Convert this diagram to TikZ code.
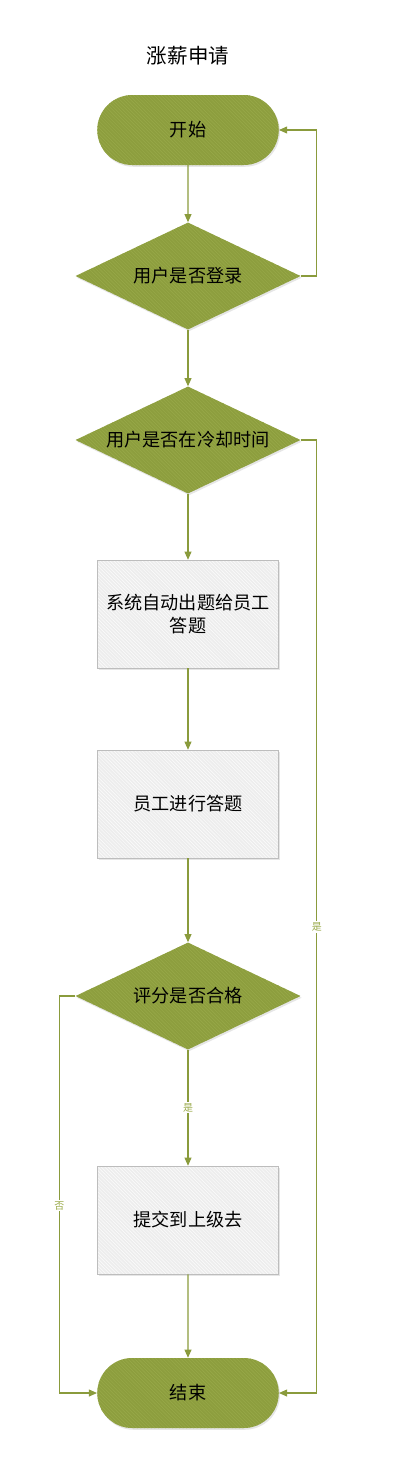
\documentclass[tikz,border=0pt]{standalone}
\usepackage{fontspec}
\newfontfamily\cjk{Noto Sans CJK SC}
\usetikzlibrary{shapes,arrows.meta,patterns,shadows}
\definecolor{leafgreen}{HTML}{8D9E3E}
\definecolor{stripegreen}{HTML}{99AA4A}
\definecolor{linegreen}{HTML}{8A9B3C}
\definecolor{taggreen}{HTML}{9AAA4A}
\definecolor{boxgray}{HTML}{EDEDED}
\definecolor{edgegray}{HTML}{BDBDBD}

\begin{document}
\begin{tikzpicture}[x=0.03cm, y=-0.03cm,
        base/.style={font=\cjk\fontsize{15.5}{19.6}\selectfont, text=black, align=center,
                     drop shadow={shadow xshift=1pt, shadow yshift=-1.5pt, opacity=0.2}},
        terminal/.style={base, rounded rectangle, minimum width=5.68cm, minimum height=2.1cm,
                         fill=leafgreen, postaction={pattern=north west lines, pattern color=stripegreen}},
        decision/.style={base, diamond, aspect=2.1, inner sep=0pt, minimum width=6.75cm, minimum height=3.21cm,
                         fill=leafgreen, postaction={pattern=north west lines, pattern color=stripegreen}},
        process/.style={base, rectangle, minimum width=5.43cm, minimum height=3.24cm, draw=edgegray,
                        preaction={fill=boxgray},
                        preaction={pattern=north west lines, pattern color=white!85!boxgray}},
        flow/.style={draw=linegreen, line width=0.9pt, -{Triangle[length=7pt,width=6pt]}},
        tag/.style={font=\cjk\fontsize{8.5}{10}\selectfont, text=taggreen, fill=white, inner sep=1pt},
    ]
        \useasboundingbox (0,0) rectangle (419,1470);

        \node[font=\cjk\fontsize{17.5}{21}\selectfont] (title) at (188,56) {涨薪申请};
        \node[terminal] (start)  at (188,130)  {开始};
        \node[decision] (login)  at (188,276)  {用户是否登录};
        \node[decision] (cool)   at (188,440)  {用户是否在冷却时间};
        \node[process]  (auto)   at (188,614)  {系统自动出题给员工\\答题};
        \node[process]  (answer) at (188,804)  {员工进行答题};
        \node[decision] (score)  at (188,996)  {评分是否合格};
        \node[process]  (submit) at (188,1220) {提交到上级去};
        \node[terminal] (stop)   at (188,1393) {结束};

        \draw[flow] (start) -- (login);
        \draw[flow] (login.east) -- ++(16,0) |- (start.east);
        \draw[flow] (login) -- (cool);
        \draw[flow] (cool.east) -- ++(16,0) |- node[tag, pos=0.2555] {是} (stop.east);
        \draw[flow] (cool) -- (auto);
        \draw[flow] (auto) -- (answer);
        \draw[flow] (answer) -- (score);
        \draw[flow] (score) -- node[tag] {是} (submit);
        \draw[flow] (score.west) -- ++(-16,0) |- node[tag, pos=0.264] {否} (stop.west);
        \draw[flow] (submit) -- (stop);
    \end{tikzpicture}
\end{document}
